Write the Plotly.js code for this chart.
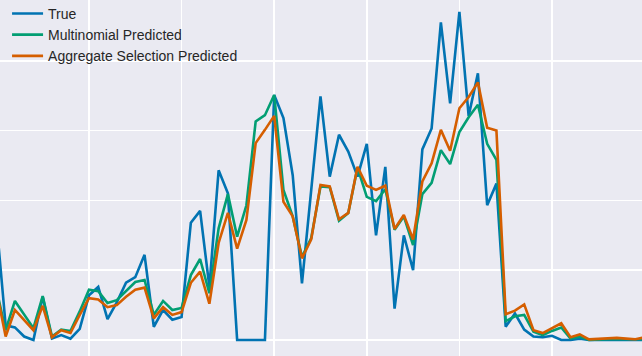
<!DOCTYPE html>
<html>
<head>
<meta charset="utf-8">
<script src="https://cdn.plot.ly/plotly-3.0.1.min.js"></script>
<style>
  html, body { margin: 0; padding: 0; background: #EAEAF2; }
  #chart { width: 642px; height: 356px; }
</style>
</head>
<body>
<div id="chart"></div>
<script>
// x positions (sample index)
const index = [0,1,2,3,4,5,6,7,8,9,10,11,12,13,14,15,16,17,18,19,20,21,22,23,24,25,26,27,28,29,30,31,32,33,34,35,36,37,38,39,40,41,42,43,44,45,46,47,48,49,50,51,52,53,54,55,56,57,58,59,60,61,62,63,64,65,66,67,68,69,70];

const trueValues = [17.0,2.1,1.8,0.5,0.0,6.2,0.2,0.7,0.2,1.6,6.4,7.6,3.0,5.4,8.2,9.0,12.2,1.9,4.3,2.9,3.3,16.8,18.5,7.6,24.3,21.0,0.0,0.0,0.0,0.0,35.1,31.8,23.6,8.1,21.5,34.9,23.4,29.4,27.0,23.4,28.1,15.0,24.8,4.5,15.0,10.0,27.3,30.3,45.5,33.9,47.0,32.1,38.2,19.3,22.4,1.9,3.8,1.5,0.5,0.4,0.6,0.0,0.0,0.2,0.0,0.0,0.0,0.0,0.0,0.0,0.0];

const multinomialPred = [7.3,1.4,5.6,3.6,1.7,6.3,0.5,1.5,1.3,4.1,7.2,7.0,5.3,5.7,7.0,8.3,8.6,3.6,5.6,4.3,4.6,9.3,11.6,6.7,16.0,20.9,14.8,19.3,31.3,32.2,35.1,21.5,17.7,11.9,14.6,22.0,21.9,17.1,18.2,24.7,20.5,19.9,21.6,15.8,17.7,13.6,20.9,22.5,27.2,25.2,29.8,31.9,33.7,28.1,25.8,2.7,3.4,3.6,1.2,0.7,1.3,1.8,0.2,0.5,0.0,0.1,0.1,0.1,0.1,0.1,0.1];

const aggregatePred = [7.1,0.5,4.3,2.9,1.4,4.9,0.4,1.4,1.0,3.6,6.0,5.8,4.7,5.0,6.2,7.2,7.5,3.1,4.7,3.6,4.0,8.2,9.8,5.2,13.9,18.2,13.1,17.2,28.2,30.1,32.1,19.8,17.7,11.7,14.4,22.2,22.0,17.3,18.2,24.8,22.1,21.5,22.1,15.9,17.9,14.4,22.7,25.3,30.1,27.1,33.2,34.8,36.9,30.4,30.0,3.7,4.2,5.1,1.4,1.0,1.7,2.4,0.4,0.8,0.1,0.2,0.2,0.3,0.2,0.1,0.4];

const seriesNames = ["True", "Multinomial Predicted", "Aggregate Selection Predicted"];
const seriesColors = ["#0173B2", "#029E73", "#D55E00"];

const ys = [trueValues, multinomialPred, aggregatePred];
const traces = ys.map((y, k) => ({
  x: index,
  y: y,
  type: "scatter",
  mode: "lines",
  name: seriesNames[k],
  line: { color: seriesColors[k], width: 2.6 }
}));

const layout = {
  width: 642,
  height: 356,
  margin: { l: 0, r: 0, t: 0, b: 0, pad: 0, autoexpand: false },
  paper_bgcolor: "#EAEAF2",
  plot_bgcolor: "#EAEAF2",
  showlegend: true,
  legend: {
    x: 0.011, y: 1.006, xanchor: "left", yanchor: "top",
    bgcolor: "rgba(0,0,0,0)",
    borderwidth: 0,
    itemwidth: 31,
    font: { family: "Liberation Sans, Arial, sans-serif", size: 14, color: "#262626" }
  },
  xaxis: {
    range: [0.39, 69.72],
    tick0: 0, dtick: 10,
    showgrid: true, gridcolor: "#FFFFFF", gridwidth: 1.6,
    zeroline: false, showticklabels: false, ticks: "", showline: false
  },
  yaxis: {
    range: [-2.29, 48.7],
    tick0: 0, dtick: 10,
    showgrid: true, gridcolor: "#FFFFFF", gridwidth: 1.6,
    zeroline: false, showticklabels: false, ticks: "", showline: false
  }
};

Plotly.newPlot("chart", traces, layout, { staticPlot: true, displayModeBar: false });
</script>
</body>
</html>
